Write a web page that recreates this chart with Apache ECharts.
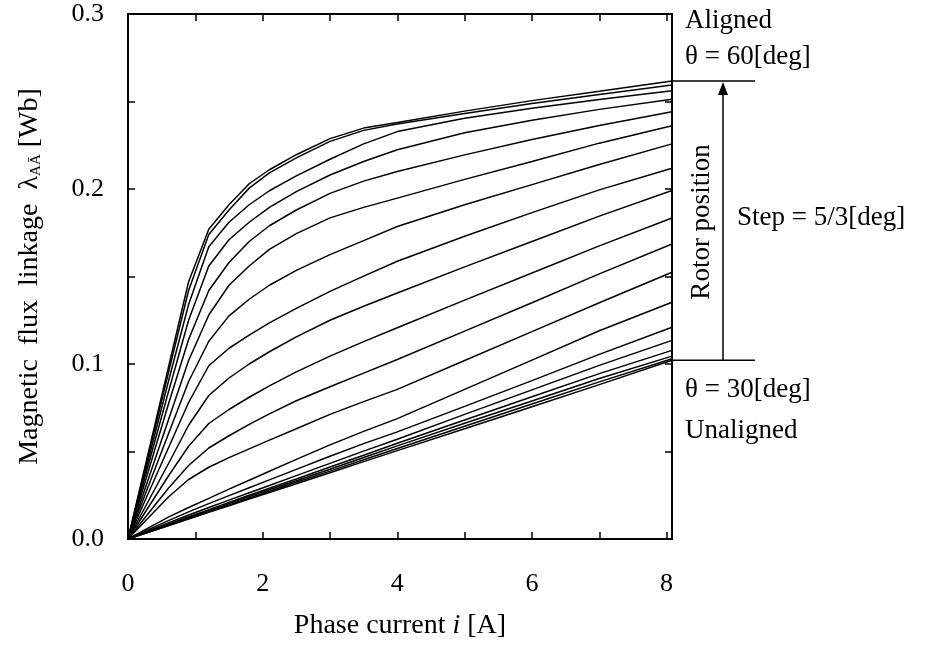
<!DOCTYPE html>
<html>
<head>
<meta charset="utf-8">
<script src="https://cdn.jsdelivr.net/npm/echarts@6/dist/echarts.min.js"></script>
<style>
  html, body { margin: 0; padding: 0; background: #fff; }
  #chart { width: 933px; height: 645px; }
</style>
</head>
<body>
<div id="chart"></div>
<script>
// phase current [A] sample points
const currentA = [0, 0.6, 0.9, 1.2, 1.5, 1.8, 2.1, 2.5, 3, 3.5, 4, 5, 6, 7, 8.08];

// flux linkage [Wb], one array per rotor position (step 5/3 deg)
const fluxDeg30   = [0, 0.0076, 0.0114, 0.0152, 0.019, 0.0228, 0.0266, 0.0316, 0.0379, 0.0442, 0.0505, 0.063, 0.0756, 0.0882, 0.1021];
const fluxDeg31_7 = [0, 0.0078, 0.0117, 0.0156, 0.0195, 0.0234, 0.0273, 0.0324, 0.0388, 0.0453, 0.0517, 0.0644, 0.0771, 0.0898, 0.103];
const fluxDeg33_3 = [0, 0.0081, 0.0122, 0.0162, 0.0202, 0.0242, 0.0281, 0.0333, 0.0399, 0.0466, 0.0532, 0.0661, 0.0789, 0.0917, 0.1045];
const fluxDeg35   = [0, 0.0085, 0.0127, 0.0168, 0.0209, 0.025, 0.029, 0.0343, 0.0411, 0.0479, 0.0547, 0.068, 0.0813, 0.0945, 0.1078];
const fluxDeg36_7 = [0, 0.0092, 0.0137, 0.018, 0.0222, 0.0264, 0.0306, 0.0362, 0.0432, 0.0502, 0.057, 0.0712, 0.0852, 0.0992, 0.1135];
const fluxDeg38_3 = [0, 0.0105, 0.0155, 0.0202, 0.0248, 0.0293, 0.0338, 0.0398, 0.0473, 0.0545, 0.0612, 0.0758, 0.0905, 0.1055, 0.121];
const fluxDeg40   = [0, 0.0125, 0.018, 0.0232, 0.0285, 0.0336, 0.0387, 0.0455, 0.0538, 0.0615, 0.0688, 0.0855, 0.1022, 0.119, 0.1353];
const fluxDeg41_7 = [0, 0.024, 0.034, 0.041, 0.0465, 0.0515, 0.0565, 0.063, 0.0712, 0.0785, 0.0855, 0.102, 0.1185, 0.135, 0.1524];
const fluxDeg43_3 = [0, 0.029, 0.042, 0.052, 0.059, 0.0655, 0.0715, 0.079, 0.087, 0.0948, 0.1026, 0.1188, 0.135, 0.1515, 0.1686];
const fluxDeg45   = [0, 0.036, 0.053, 0.066, 0.074, 0.081, 0.0875, 0.0955, 0.1045, 0.1128, 0.1207, 0.1365, 0.152, 0.1675, 0.1834];
const fluxDeg46_7 = [0, 0.043, 0.065, 0.082, 0.092, 0.1, 0.107, 0.1155, 0.125, 0.133, 0.1406, 0.1555, 0.17, 0.1845, 0.1991];
const fluxDeg48_3 = [0, 0.052, 0.078, 0.099, 0.109, 0.1165, 0.1235, 0.1318, 0.1415, 0.1502, 0.1587, 0.173, 0.1865, 0.1995, 0.2119];
const fluxDeg50   = [0, 0.06, 0.09, 0.113, 0.1275, 0.137, 0.145, 0.1535, 0.1625, 0.1705, 0.1786, 0.191, 0.2025, 0.214, 0.2258];
const fluxDeg51_7 = [0, 0.068, 0.102, 0.128, 0.145, 0.156, 0.1655, 0.1745, 0.1835, 0.1895, 0.1948, 0.2055, 0.2157, 0.2262, 0.2362];
const fluxDeg53_3 = [0, 0.077, 0.114, 0.142, 0.158, 0.17, 0.179, 0.188, 0.1975, 0.2045, 0.21, 0.2195, 0.2283, 0.2363, 0.2442];
const fluxDeg55   = [0, 0.084, 0.125, 0.156, 0.171, 0.181, 0.1895, 0.1985, 0.208, 0.2157, 0.2224, 0.2322, 0.2393, 0.2455, 0.2513];
const fluxDeg56_7 = [0, 0.09, 0.134, 0.167, 0.181, 0.191, 0.199, 0.2075, 0.217, 0.2258, 0.2328, 0.2404, 0.2462, 0.2512, 0.2562];
const fluxDeg58_3 = [0, 0.095, 0.142, 0.174, 0.188, 0.2005, 0.2092, 0.2178, 0.2272, 0.2335, 0.2372, 0.2432, 0.2488, 0.254, 0.2594];
const fluxDeg60   = [0, 0.098, 0.147, 0.177, 0.191, 0.203, 0.211, 0.2196, 0.2288, 0.2348, 0.238, 0.2445, 0.2505, 0.2558, 0.2617];

const rotorCurves = [fluxDeg30, fluxDeg31_7, fluxDeg33_3, fluxDeg35, fluxDeg36_7, fluxDeg38_3, fluxDeg40,
  fluxDeg41_7, fluxDeg43_3, fluxDeg45, fluxDeg46_7, fluxDeg48_3, fluxDeg50, fluxDeg51_7, fluxDeg53_3,
  fluxDeg55, fluxDeg56_7, fluxDeg58_3, fluxDeg60];

const xTickLabels = ['0', '2', '4', '6', '8'];
const yTickLabels = ['0.0', '0.1', '0.2', '0.3'];

const FONT = '"Liberation Serif", "Times New Roman", serif';
const BLACK = '#000';

function frameAxis(extra) {
  return Object.assign({
    type: 'value',
    axisLine: { show: true, onZero: false, lineStyle: { color: BLACK, width: 2 } },
    axisTick: { show: true, inside: true, length: 7, lineStyle: { color: BLACK, width: 1.5 } },
    splitLine: { show: false },
    axisLabel: { show: false }
  }, extra);
}

const option = {
  backgroundColor: '#fff',
  animation: false,
  grid: { left: 128, right: 261, top: 14, bottom: 105 },
  xAxis: [
    frameAxis({
      position: 'bottom', min: 0, max: 8.08, interval: 1,
      name: 'Phase current {it|i} [A]',
      nameLocation: 'middle', nameGap: 73,
      nameTextStyle: { fontFamily: FONT, fontSize: 28, color: BLACK, rich: { it: { fontFamily: FONT, fontSize: 28, fontStyle: 'italic' } } },
      axisLabel: {
        show: true, margin: 32, fontFamily: FONT, fontSize: 26, color: BLACK,
        formatter: v => (xTickLabels.includes(String(v)) ? String(v) : '')
      }
    }),
    frameAxis({ position: 'top', min: 0, max: 8.08, interval: 1 })
  ],
  yAxis: [
    frameAxis({
      position: 'left', min: 0, max: 0.3, interval: 0.05,
      name: 'Magnetic  flux  linkage  λ{sub|AĀ} [Wb]',
      nameLocation: 'middle', nameGap: 84, nameRotate: 90,
      nameTextStyle: {
        fontFamily: FONT, fontSize: 28, color: BLACK,
        rich: { sub: { fontFamily: FONT, fontSize: 15, padding: [14, 0, 0, 0] } }
      },
      axisLabel: {
        show: true, margin: 24, fontFamily: FONT, fontSize: 26, color: BLACK,
        formatter: v => {
          const s = v.toFixed(1);
          return Math.abs(v * 10 - Math.round(v * 10)) < 1e-6 && yTickLabels.includes(s) ? s : '';
        }
      }
    }),
    frameAxis({ position: 'right', min: 0, max: 0.3, interval: 0.05 })
  ],
  series: rotorCurves.map((flux, k) => ({
    type: 'line',
    name: 'curve' + k,
    xAxisIndex: 0,
    yAxisIndex: 0,
    symbol: 'none',
    silent: true,
    lineStyle: { color: BLACK, width: 1.5 },
    data: currentA.map((i, n) => [i, flux[n]])
  }))
};

const chart = echarts.init(document.getElementById('chart'));
chart.setOption(option);

// annotation on the right, anchored to the aligned / unaligned end points
const last = currentA.length - 1;
const endTop = chart.convertToPixel({ seriesIndex: rotorCurves.length - 1 }, [currentA[last], fluxDeg60[last]]);
const endBot = chart.convertToPixel({ seriesIndex: 0 }, [currentA[last], fluxDeg30[last]]);
const xr = endTop[0];
const ax = xr + 51;
const txt = (text, x, y, extra) => Object.assign({
  type: 'text', x: x, y: y,
  style: { text: text, fontFamily: FONT, fontSize: 27, fill: BLACK, textAlign: 'left', textVerticalAlign: 'middle' }
}, extra || {});

chart.setOption({
  graphic: [
    { type: 'line', shape: { x1: xr, y1: endTop[1], x2: xr + 83, y2: endTop[1] }, style: { stroke: BLACK, lineWidth: 1.5 } },
    { type: 'line', shape: { x1: xr, y1: endBot[1], x2: xr + 83, y2: endBot[1] }, style: { stroke: BLACK, lineWidth: 1.5 } },
    { type: 'line', shape: { x1: ax, y1: endBot[1], x2: ax, y2: endTop[1] + 10 }, style: { stroke: BLACK, lineWidth: 1.5 } },
    { type: 'polygon', shape: { points: [[ax, endTop[1] + 1], [ax - 5, endTop[1] + 14], [ax + 5, endTop[1] + 14]] }, style: { fill: BLACK } },
    txt('Aligned', 685, 21),
    txt('θ = 60[deg]', 685, 57),
    txt('θ = 30[deg]', 685, 390),
    txt('Unaligned', 685, 431),
    txt('Step = 5/3[deg]', 737, 218),
    {
      type: 'text', x: 702, y: 222, rotation: Math.PI / 2,
      style: { text: 'Rotor position', fontFamily: FONT, fontSize: 27, fill: BLACK, textAlign: 'center', textVerticalAlign: 'middle' }
    }
  ]
});

window.addEventListener('resize', () => chart.resize());
</script>
</body>
</html>
